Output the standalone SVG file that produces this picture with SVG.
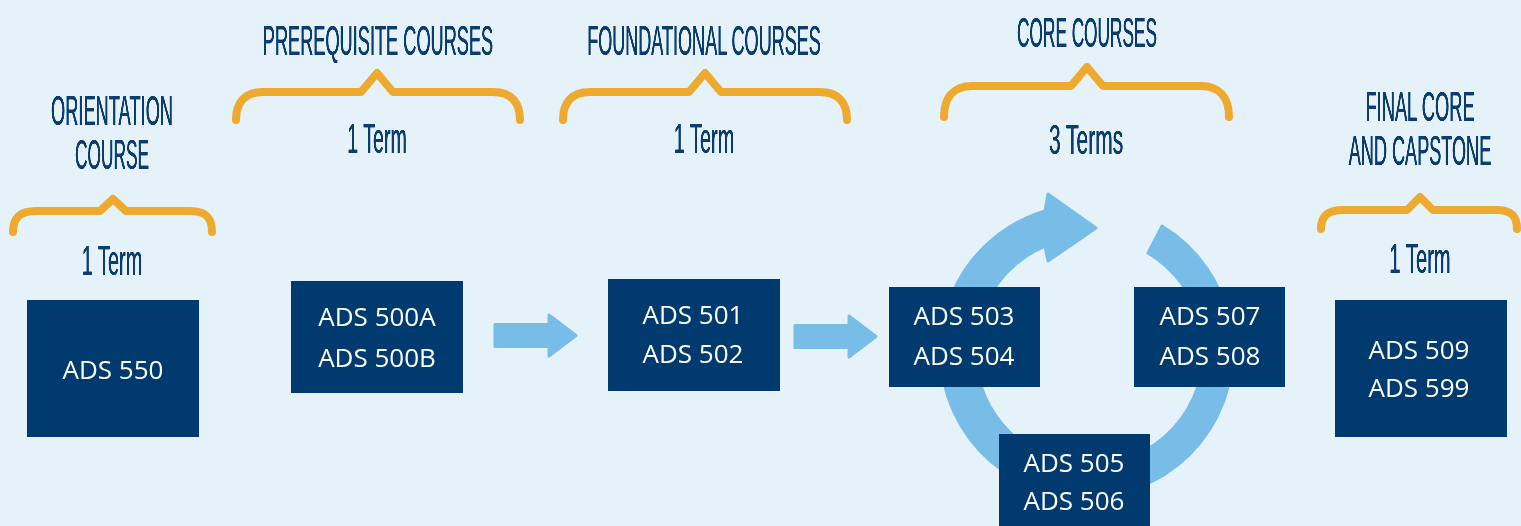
<svg xmlns="http://www.w3.org/2000/svg" width="1521" height="526" viewBox="0 0 1521 526">
<defs>
<style>
.bg{fill:#E5F2FA}
.box{fill:#003A6F}
.lbl{font-family:"Open Sans","Noto Sans",sans-serif;font-size:26px;fill:#FFFFFF;text-anchor:middle}
.hd{font-family:"Liberation Sans",Arial,sans-serif;font-size:43px;fill:#0B3D6F;text-anchor:middle}
.brace{fill:none;stroke:#EEAA2F;stroke-width:8;stroke-linecap:round;stroke-linejoin:round}
.arrow{fill:#78BCE8;stroke:#78BCE8;stroke-width:3;stroke-linejoin:round}
</style>
<filter id="thick" x="-5%" y="-5%" width="110%" height="110%">
<feGaussianBlur in="SourceGraphic" stdDeviation="0.6 0" result="b"/>
<feComponentTransfer in="b">
<feFuncA type="linear" slope="1.7" intercept="0"/>
</feComponentTransfer>
</filter>
</defs>
<rect class="bg" x="0" y="0" width="1521" height="526"/>

<g id="headings" filter="url(#thick)">
<text class="hd" transform="translate(112,125) scale(0.425,1)">ORIENTATION</text>
<text class="hd" transform="translate(112,169) scale(0.402,1)">COURSE</text>
<text class="hd" transform="translate(378,55) scale(0.423,1)">PREREQUISITE COURSES</text>
<text class="hd" transform="translate(704,55) scale(0.420,1)">FOUNDATIONAL COURSES</text>
<text class="hd" transform="translate(1087,47) scale(0.401,1)">CORE COURSES</text>
<text class="hd" transform="translate(1420,121) scale(0.426,1)">FINAL CORE</text>
<text class="hd" transform="translate(1420,165) scale(0.421,1)">AND CAPSTONE</text>
<text class="hd" transform="translate(112,275) scale(0.463,1)">1 Term</text>
<text class="hd" transform="translate(377,153) scale(0.455,1)">1 Term</text>
<text class="hd" transform="translate(704,153) scale(0.463,1)">1 Term</text>
<text class="hd" transform="translate(1086,154) scale(0.488,1)">3 Terms</text>
<text class="hd" transform="translate(1420,273) scale(0.47,1)">1 Term</text>
</g>

<g id="braces">
<path class="brace" d="M13,232 C13,218 20,211 36,211 L100,211 L113,199 L126,211 L190,211 C206,211 212,218 212,232"/>
<path class="brace" d="M236,120 C236,102 245,92 263,92 L361,92 L377,73 L393,92 L493,92 C511,92 520,102 520,120"/>
<path class="brace" d="M563,120 C563,102 572,92 590,92 L689,92 L705,73 L721,92 L820,92 C838,92 847,102 847,120"/>
<path class="brace" d="M944,117 C944,98 953,86 972,86 L1071,86 L1087,67 L1103,86 L1201,86 C1220,86 1229,98 1229,117"/>
<path class="brace" d="M1321,229 C1321,216 1328,210 1343,210 L1407,210 L1420,197 L1433,210 L1497,210 C1511,210 1517,216 1517,229"/>
</g>

<g id="connectors">
<path class="arrow" d="M495,324.5 L549,324.5 L549,315 L576,335.5 L549,356 L549,346.5 L495,346.5 Z"/>
<path class="arrow" d="M795,325.5 L849,325.5 L849,316 L876,336.5 L849,357 L849,347.5 L795,347.5 Z"/>
<path class="arrow" d="M1162,226 A146,146 0 1 1 1045,211 L1048,194 L1096,228 L1048,261 L1045,246 A114,114 0 1 0 1148,253 Z"/>
</g>

<g id="n550">
<rect class="box" x="27" y="300" width="172" height="137"/>
<text class="lbl" x="113" y="379">ADS 550</text>
</g>
<g id="n500">
<rect class="box" x="291" y="281" width="172" height="112"/>
<text class="lbl" x="377" y="326">ADS 500A</text>
<text class="lbl" x="377" y="367">ADS 500B</text>
</g>
<g id="n501">
<rect class="box" x="608" y="279" width="172" height="112"/>
<text class="lbl" x="693" y="324">ADS 501</text>
<text class="lbl" x="693" y="363">ADS 502</text>
</g>
<g id="n503">
<rect class="box" x="889" y="287" width="151" height="100"/>
<text class="lbl" x="964" y="325">ADS 503</text>
<text class="lbl" x="964" y="365">ADS 504</text>
</g>
<g id="n507">
<rect class="box" x="1134" y="287" width="151" height="100"/>
<text class="lbl" x="1210" y="325">ADS 507</text>
<text class="lbl" x="1210" y="365">ADS 508</text>
</g>
<g id="n505">
<rect class="box" x="999" y="434" width="151" height="92"/>
<text class="lbl" x="1074" y="472">ADS 505</text>
<text class="lbl" x="1074" y="510">ADS 506</text>
</g>
<g id="n509">
<rect class="box" x="1335" y="300" width="172" height="137"/>
<text class="lbl" x="1419" y="359">ADS 509</text>
<text class="lbl" x="1419" y="397">ADS 599</text>
</g>
</svg>
